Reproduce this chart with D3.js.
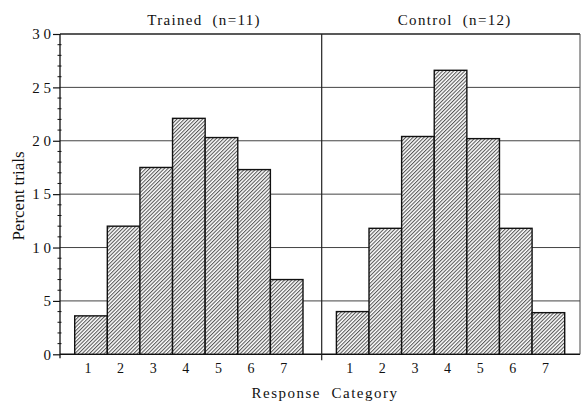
<!DOCTYPE html>
<html>
<head>
<meta charset="utf-8">
<script src="https://cdn.jsdelivr.net/npm/d3@7"></script>
<style>
  body { margin: 0; background: #fff; }
  text { font-family: "Liberation Serif", "DejaVu Serif", serif; fill: #111; }
</style>
</head>
<body>
<div id="chart"></div>
<script>
// Data
var categories = ['1', '2', '3', '4', '5', '6', '7']
var trained = [3.6, 12.0, 17.5, 22.1, 20.3, 17.3, 7.0]
var control = [4.0, 11.8, 20.4, 26.6, 20.2, 11.8, 3.9]
var panelTitles = ['Trained  (n=11)', 'Control  (n=12)']
var yTicks = [0, 5, 10, 15, 20, 25, 30]
var yTickLabels = ['0', '5', '1 0', '1 5', '2 0', '2 5', '3 0']

const width = 581
const height = 404
const plotLeft = 60, plotRight = 580, plotTop = 34, plotBottom = 354.3
const divider = 321.7

var svg = d3.select('#chart')
  .append('svg')
  .attr('width', width)
  .attr('height', height)

// Hatch fill for the bars
var pat = svg.append('defs').append('pattern')
  .attr('id', 'hatch')
  .attr('patternUnits', 'userSpaceOnUse')
  .attr('width', 2.6)
  .attr('height', 2.6)
  .attr('patternTransform', 'rotate(45)')
pat.append('rect').attr('width', 2.6).attr('height', 2.6).attr('fill', '#fff')
pat.append('line')
  .attr('x1', 0.6).attr('y1', 0).attr('x2', 0.6).attr('y2', 2.6)
  .attr('stroke', '#2a2a2a').attr('stroke-width', 0.85)

var y = d3.scaleLinear().domain([0, 30]).range([plotBottom, plotTop])

// gridlines
svg.append('g')
  .selectAll('line')
  .data(yTicks.slice(1))
  .enter().append('line')
    .attr('x1', plotLeft).attr('x2', plotRight)
    .attr('y1', d => y(d)).attr('y2', d => y(d))
    .attr('stroke', d => d === 30 ? '#222' : '#444')
    .attr('stroke-width', d => d === 30 ? 1.3 : 1)

// baseline
svg.append('line')
  .attr('x1', plotLeft).attr('x2', plotRight)
  .attr('y1', y(0)).attr('y2', y(0))
  .attr('stroke', '#111').attr('stroke-width', 1.4)

// panel divider and right border
svg.append('line')
  .attr('x1', divider).attr('x2', divider)
  .attr('y1', plotTop).attr('y2', plotBottom + 6)
  .attr('stroke', '#222').attr('stroke-width', 1.2)
svg.append('line')
  .attr('x1', plotRight).attr('x2', plotRight)
  .attr('y1', plotTop).attr('y2', plotBottom)
  .attr('stroke', '#444').attr('stroke-width', 1)

var panels = [
  { x0: plotLeft, values: trained, title: panelTitles[0] },
  { x0: divider, values: control, title: panelTitles[1] }
]

panels.forEach(function (p, i) {
  var x = d3.scaleBand().domain(categories).range([14.7, 243]).padding(0)

  var g = svg.append('g').attr('transform', 'translate(' + p.x0 + ',0)')

  g.selectAll('rect')
    .data(p.values)
    .enter().append('rect')
      .attr('x', (d, j) => x(categories[j]))
      .attr('y', d => y(d))
      .attr('width', x.bandwidth())
      .attr('height', d => y(0) - y(d))
      .attr('fill', 'url(#hatch)')
      .attr('stroke', '#111')
      .attr('stroke-width', 1.4)

  // category labels
  g.selectAll('text.cat')
    .data(categories)
    .enter().append('text')
      .attr('class', 'cat')
      .attr('x', d => x(d) + x.bandwidth() / 2 - 3)
      .attr('y', 373)
      .attr('text-anchor', 'middle')
      .style('font-size', '14px')
      .text(d => d)

  // panel title
  g.append('text')
    .attr('x', i === 0 ? 144 : 133)
    .attr('y', 25)
    .attr('text-anchor', 'middle')
    .style('font-size', '15px')
    .style('letter-spacing', '1.3px')
    .style('white-space', 'pre')
    .text(p.title)
})

// y axis with major and minor ticks
var yAxis = d3.axisLeft(y)
  .tickValues(yTicks)
  .tickSize(7)
  .tickPadding(2)
  .tickFormat((d, i) => yTickLabels[i])
var ya = svg.append('g')
  .attr('transform', 'translate(' + plotLeft + ',0)')
  .call(yAxis)
ya.select('.domain').remove()
ya.selectAll('line').attr('stroke', '#111').attr('stroke-width', 1.2)
ya.selectAll('text')
  .style('font-family', '"Liberation Serif", serif')
  .style('font-size', '15px')
  .style('white-space', 'pre')
  .attr('fill', '#111')

svg.append('line')
  .attr('x1', plotLeft).attr('x2', plotLeft)
  .attr('y1', plotTop).attr('y2', plotBottom + 4)
  .attr('stroke', '#111').attr('stroke-width', 1.3)

svg.append('g')
  .selectAll('line')
  .data(d3.range(0, 31).filter(d => d % 5 !== 0))
  .enter().append('line')
    .attr('x1', plotLeft - 2.5).attr('x2', plotLeft + 1.5)
    .attr('y1', d => y(d)).attr('y2', d => y(d))
    .attr('stroke', '#111').attr('stroke-width', 1)

// axis titles
svg.append('text')
  .attr('x', 325)
  .attr('y', 398)
  .attr('text-anchor', 'middle')
  .style('font-size', '15px')
  .style('letter-spacing', '1.5px')
  .style('white-space', 'pre')
  .text('Response  Category')

svg.append('text')
  .attr('transform', 'translate(24,196) rotate(-90)')
  .attr('text-anchor', 'middle')
  .style('font-size', '17px')
  .text('Percent trials')
</script>
</body>
</html>
